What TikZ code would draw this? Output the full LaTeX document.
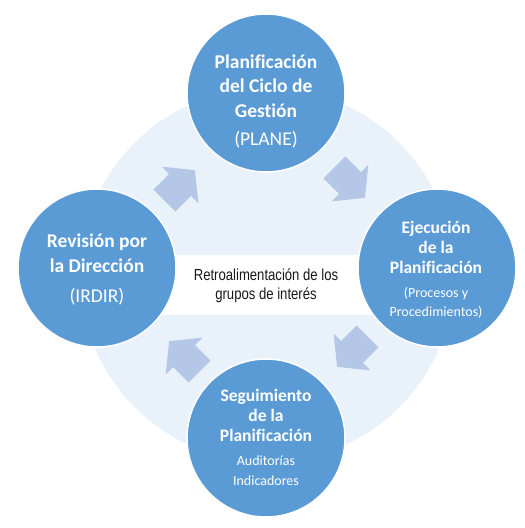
\documentclass[tikz,border=0pt]{standalone}
\usepackage{fontspec}
\setmainfont{Carlito}[Ligatures={NoCommon}]
\newfontfamily\narrowsans[FakeStretch=0.82]{Liberation Sans}
\definecolor{circblue}{HTML}{5B9BD5}
\definecolor{bgblue}{HTML}{E9F1FA}
\definecolor{arrblue}{HTML}{B4C7E7}
\definecolor{txtdark}{HTML}{1A1A1A}
\newcommand\bigfont{\fontsize{19.5bp}{24.5bp}\selectfont}
\newcommand\midfont{\fontsize{17.5bp}{20bp}\selectfont}
\newcommand\smallfont{\fontsize{14bp}{19.5bp}\selectfont}
\tikzset{
  stagecirc/.style={circle, fill=circblue, draw=white, line width=1.5bp, minimum size=158bp, inner sep=0pt},
  lbl/.style={text=white, align=center, inner sep=0pt},
  blockarrow/.pic={\fill[arrblue] (-22,-15.5) -- (0,-15.5) -- (0,-26) -- (21,0) -- (0,26) -- (0,15.5) -- (-22,15.5) -- cycle;}
}
\begin{document}
\begin{tikzpicture}[x=1bp,y=-1bp]
\useasboundingbox (0,0) rectangle (525,528);
\fill[white] (0,0) rectangle (525,528);
\node[circle, fill=bgblue, minimum size=374bp, inner sep=0pt] (bg) at (267,275) {};
\node[fill=white, minimum width=215bp, minimum height=60bp, inner sep=0pt] (box) at (266,285) {};
\node[text=txtdark, align=center, inner sep=0pt, font=\narrowsans\fontsize{16bp}{18.5bp}\selectfont] (boxT) at (266,286) {Retroalimentación de los\\grupos de interés};
% arrows
\pic[rotate=45] (a1) at (180,185) {blockarrow};
\pic[rotate=-45] (a2) at (350,183) {blockarrow};
\pic[rotate=-135] (a3) at (352,352) {blockarrow};
\pic[rotate=135] (a4) at (184,356) {blockarrow};
% circles
\node[stagecirc] (plane) at (266,93) {};
\node[stagecirc] (ejec) at (437,268) {};
\node[stagecirc] (segu) at (266,438) {};
\node[stagecirc] (irdir) at (97,268) {};
% labels
\node[lbl, font=\bigfont\bfseries] (planeA) at (266,86) {Planificación\\del Ciclo de\\Gestión};
\node[lbl, font=\bigfont] (planeB) at (266,139.5) {(PLANE)};
\node[lbl, font=\midfont\bfseries] (ejecA) at (436,247.5) {Ejecución\\de la\\Planificación};
\node[lbl, font=\smallfont] (ejecB) at (436,303) {(Procesos y\\Procedimientos)};
\node[lbl, font=\midfont\bfseries] (seguA) at (266,415.5) {Seguimiento\\de la\\Planificación};
\node[lbl, font=\smallfont] (seguB) at (266,470.5) {Auditorías\\Indicadores};
\node[lbl, font=\bigfont\bfseries] (irdirA) at (97,253) {Revisión por\\la Dirección};
\node[lbl, font=\bigfont] (irdirB) at (97,297) {(IRDIR)};
\end{tikzpicture}
\end{document}
